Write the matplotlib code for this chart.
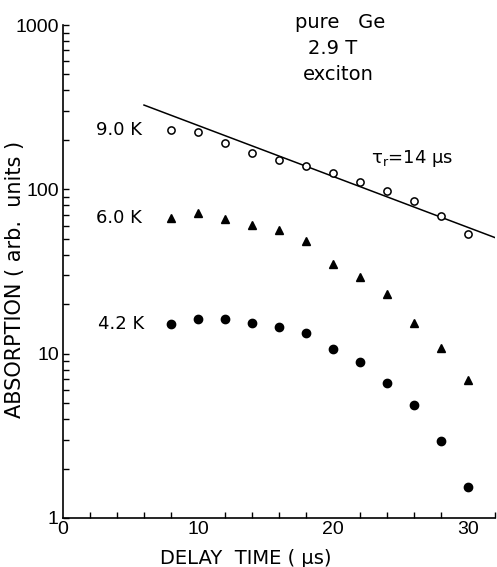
import numpy as np
import matplotlib
matplotlib.use("Agg")
import matplotlib.pyplot as plt
from matplotlib.ticker import FixedLocator, NullFormatter, LogLocator

# ---- data ----
delay = [8, 10, 12, 14, 16, 18, 20, 22, 24, 26, 28, 30]
abs_9K = [230, 224, 192, 167, 151, 139, 126, 111, 98, 85, 69, 53.5]
abs_6K = [67, 71.8, 66, 60.7, 56.6, 48.5, 35.2, 29.3, 23.1, 15.4, 10.8, 6.9]
abs_4K = [15.2, 16.3, 16.3, 15.4, 14.5, 13.4, 10.7, 8.9, 6.6, 4.9, 2.94, 1.55]
fit_tau = 14.0          # microseconds
fit_amp = 500.0         # amplitude at t=0
fit_t = [6.0, 32.0]     # range of fit line
series_labels = ["9.0 K", "6.0 K", "4.2 K"]
x_ticklabels = ["0", "10", "20", "30"]
y_ticklabels = ["1", "10", "100", "1000"]

plt.rcParams['font.family'] = ['DejaVu Sans']

W, H = 497, 567
fig = plt.figure(figsize=(W / 100, H / 100), dpi=100)
ax = fig.add_axes([63 / W, 1 - 518 / H, (495 - 63) / W, (518 - 25) / H])

ax.set_yscale('log')
ax.set_xlim(0, 32)
ax.set_ylim(1, 1000)

t_line = np.linspace(fit_t[0], fit_t[1], 50)
ax.plot(t_line, fit_amp * np.exp(-t_line / fit_tau), color='black', lw=1.1)

ax.plot(delay, abs_9K, 'o', mfc='white', mec='black', mew=1.1, ms=5.2, ls='none')
ax.plot(delay, abs_6K, '^', color='black', ms=5.8, ls='none')
ax.plot(delay, abs_4K, 'o', color='black', ms=6.0, ls='none')

for s in ['top', 'right']:
    ax.spines[s].set_visible(False)
for s in ['left', 'bottom']:
    ax.spines[s].set_linewidth(1.2)

ax.xaxis.set_major_locator(FixedLocator([0, 10, 20, 30]))
ax.set_xticklabels(x_ticklabels)
ax.xaxis.set_minor_locator(FixedLocator(np.arange(2, 33, 2)))
ax.yaxis.set_major_locator(FixedLocator([1, 10, 100, 1000]))
ax.set_yticklabels(y_ticklabels)
ax.yaxis.set_minor_locator(LogLocator(base=10, subs=np.arange(2, 10)))
ax.yaxis.set_minor_formatter(NullFormatter())

ax.tick_params(axis='both', which='both', direction='in', length=4, width=1.0,
               labelsize=13)
ax.tick_params(axis='x', which='major', pad=2, length=0)
ax.tick_params(axis='y', which='major', pad=3, length=4)
for lab in ax.get_xticklabels() + ax.get_yticklabels():
    lab.set_family(['Liberation Sans', 'DejaVu Sans'])
    lab.set_fontsize(14)

ax.set_xlabel('DELAY  TIME ( µs)', fontsize=14)
ax.set_ylabel('ABSORPTION ( arb.  units )', fontsize=15)
ax.xaxis.set_label_coords(0.424, -0.062)
ax.yaxis.set_label_coords(-0.088, 0.483)

ax.text(5.85, abs_9K[0], series_labels[0], ha='right', va='center', fontsize=13)
ax.text(5.85, abs_6K[0], series_labels[1], ha='right', va='center', fontsize=13)
ax.text(6.0, abs_4K[0], series_labels[2], ha='right', va='center', fontsize=13)

ax.text(22.8, 155, 'τ$_\\mathrm{r}$=14 µs', ha='left', va='center', fontsize=13)

fig.text(295 / W, 1 - 22 / H, 'pure   Ge', ha='left', va='center', fontsize=14)
fig.text(308 / W, 1 - 48 / H, '2.9 T', ha='left', va='center', fontsize=14)
fig.text(303 / W, 1 - 75 / H, 'exciton', ha='left', va='center', fontsize=14)

fig.savefig('out.png', dpi=100)
